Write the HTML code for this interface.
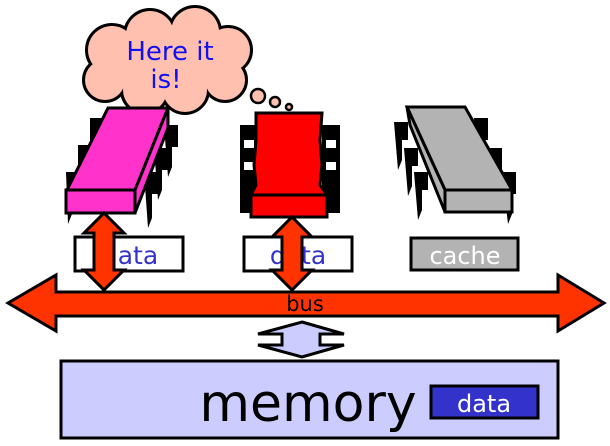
<!DOCTYPE html>
<html><head><meta charset="utf-8"><style>
html,body{margin:0;padding:0;background:#fff;}
svg{display:block;}
text{font-family:"DejaVu Sans","Liberation Sans",sans-serif;}
</style></head><body>
<svg width="610" height="446" viewBox="0 0 610 446" xmlns="http://www.w3.org/2000/svg">
<!-- cloud -->
<g stroke="#000" stroke-width="6" fill="#000">
<circle cx="112" cy="50" r="24"/><circle cx="150" cy="35" r="24"/><circle cx="195" cy="32" r="24"/><circle cx="228" cy="50" r="22"/><circle cx="225" cy="80" r="20"/><circle cx="185" cy="90" r="22"/><circle cx="145" cy="90" r="22"/><circle cx="105" cy="80" r="20"/><ellipse cx="168" cy="62" rx="60" ry="35"/>
</g>
<g fill="#ffc0b0">
<circle cx="112" cy="50" r="24"/><circle cx="150" cy="35" r="24"/><circle cx="195" cy="32" r="24"/><circle cx="228" cy="50" r="22"/><circle cx="225" cy="80" r="20"/><circle cx="185" cy="90" r="22"/><circle cx="145" cy="90" r="22"/><circle cx="105" cy="80" r="20"/><ellipse cx="168" cy="62" rx="60" ry="35"/>
</g>
<text x="170" y="60" font-size="26" fill="#1010f0" text-anchor="middle">Here it</text>
<text x="166" y="88" font-size="26" fill="#1010f0" text-anchor="middle">is!</text>
<g fill="#ffc0b0" stroke="#000" stroke-width="2.5">
<circle cx="258" cy="96" r="7"/><circle cx="275" cy="102" r="5"/><circle cx="289" cy="107" r="3"/>
</g>
<!-- pink chip legs -->
<g fill="#000">
<path d="M90 118h14v22h-8v20l-6 10z"/><path d="M78 145h14v22h-8v20l-6 10z"/><path d="M66 172h14v22h-8v20l-4 10z"/>
<path d="M164 125h14v22h-6v20l-4 10z"/><path d="M154 148h14v22h-6v20l-4 10z"/><path d="M144 172h14v22h-6v24l-4 10z"/>
</g>
<polygon points="108,108 168,108 135,190 67,190" fill="#ff33cc" stroke="#000" stroke-width="3"/>
<polygon points="168,108 168,128 135,213 135,190" fill="#ff33cc" stroke="#000" stroke-width="3"/>
<rect x="66" y="190" width="69" height="23" fill="#ff33cc" stroke="#000" stroke-width="3"/>
<!-- red chip -->
<g fill="#000">
<rect x="240" y="125" width="18" height="88"/><rect x="322" y="125" width="18" height="88"/>
</g>
<g fill="#fff"><rect x="244" y="140" width="10" height="8"/><rect x="244" y="162" width="10" height="8"/><rect x="326" y="140" width="10" height="8"/><rect x="326" y="162" width="10" height="8"/></g>
<polygon points="256,113 322,113 320,140 322,165 320,185 327,195 251,195 256,185 254,165 256,140" fill="#ff0000" stroke="#000" stroke-width="3"/>
<rect x="251" y="195" width="76" height="22" fill="#ff0000" stroke="#000" stroke-width="3"/>
<!-- gray chip -->
<g fill="#000">
<path d="M394 122h14v18h-6v20l-4 10z"/><path d="M404 148h14v18h-6v20l-4 10z"/><path d="M414 172h14v18h-6v20l-4 10z"/>
<path d="M474 118h14v22h-6v20l-4 10z"/><path d="M488 148h14v22h-6v20l-4 10z"/><path d="M502 172h14v22h-4v20l-4 10z"/>
</g>
<polygon points="407,107 465,107 512,190 445,190" fill="#b3b3b3" stroke="#000" stroke-width="3"/>
<polygon points="407,107 410,125 445,212 445,190" fill="#b3b3b3" stroke="#000" stroke-width="3"/>
<rect x="445" y="190" width="67" height="22" fill="#b3b3b3" stroke="#000" stroke-width="3"/>
<!-- data boxes -->
<rect x="75" y="237" width="108" height="34" fill="#fff" stroke="#000" stroke-width="3"/>
<text x="130" y="264" font-size="25" fill="#3333cc" text-anchor="middle">data</text>
<rect x="244" y="237" width="108" height="34" fill="#fff" stroke="#000" stroke-width="3"/>
<text x="298" y="264" font-size="25" fill="#3333cc" text-anchor="middle">data</text>
<rect x="411" y="238" width="107" height="32" fill="#b3b3b3" stroke="#000" stroke-width="3"/>
<text x="465" y="264" font-size="24" fill="#fff" text-anchor="middle">cache</text>
<!-- vertical arrows -->
<polygon points="104,213 124,233 114,233 114,270 124,270 104,290 84,270 94,270 94,233 84,233" fill="#ff3300" stroke="#000" stroke-width="3"/>
<polygon points="292,217 312,237 302,237 302,270 312,270 292,290 272,270 282,270 282,237 272,237" fill="#ff3300" stroke="#000" stroke-width="3"/>
<!-- bus -->
<polygon points="8,303 56,275 56,292 558,292 558,275 604,303 558,331 558,316 56,316 56,331" fill="#ff3300" stroke="#000" stroke-width="3"/>
<text x="305" y="311" font-size="21" fill="#000" text-anchor="middle">bus</text>
<!-- small arrow -->
<polygon points="302,322 344,334 320,334 320,345 344,345 302,357 258,345 282,345 282,334 258,334" fill="#ccccff" stroke="#000" stroke-width="3"/>
<!-- memory -->
<rect x="61" y="361" width="497" height="77" fill="#ccccff" stroke="#000" stroke-width="3"/>
<text x="308" y="421" font-size="52" fill="#000" text-anchor="middle">memory</text>
<rect x="431" y="386" width="107" height="32" fill="#3333cc" stroke="#000" stroke-width="3"/>
<text x="484" y="412" font-size="24" fill="#fff" text-anchor="middle">data</text>
</svg>
</body></html>
